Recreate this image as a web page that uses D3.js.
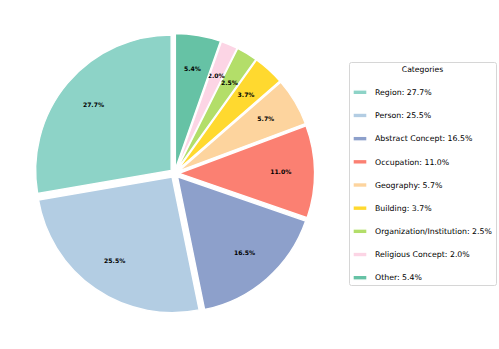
<!DOCTYPE html>
<html>
<head>
<meta charset="utf-8">
<script src="https://d3js.org/d3.v7.min.js"></script>
<style>
  body { margin: 0; background: #fff; }
  svg text { font-family: "DejaVu Sans", sans-serif; }
</style>
</head>
<body>
<svg id="chart" width="499" height="349"></svg>
<script>
const categories = ['Region', 'Person', 'Abstract Concept', 'Occupation', 'Geography',
  'Building', 'Organization/Institution', 'Religious Concept', 'Other'];
const shares = [27.7, 25.5, 16.5, 11.0, 5.7, 3.7, 2.5, 2.0, 5.4];
const colors = ['#8dd3c7', '#b3cde3', '#8da0cb', '#fb8072', '#fdd49e',
  '#ffd92f', '#b3de69', '#fcd5e5', '#66c2a5'];

const data = categories.map((c, i) => ({ name: c, value: shares[i], color: colors[i] }));

const svg = d3.select('#chart');

const cx = 174.6, cy = 173.4;
const radius = 135.5;
const explode = 4.5;

// counter-clockwise from 12 o'clock, like matplotlib startangle=90
const pie = d3.pie()
  .value(d => d.value)
  .sort(null)
  .startAngle(0)
  .endAngle(-2 * Math.PI);

const arc = d3.arc().innerRadius(0).outerRadius(radius);
const labelArc = d3.arc().innerRadius(radius * 0.75).outerRadius(radius * 0.75);

const arcs = pie(data);

const offset = a => {
  const mid = (a.startAngle + a.endAngle) / 2;
  return [Math.sin(mid) * explode, -Math.cos(mid) * explode];
};

const slices = svg.append('g')
  .attr('transform', `translate(${cx},${cy})`)
  .selectAll('g')
  .data(arcs)
  .enter()
  .append('g')
  .attr('transform', a => `translate(${offset(a)})`);

slices.append('path')
  .attr('d', arc)
  .attr('fill', a => a.data.color)
  .attr('stroke', '#fff')
  .attr('stroke-width', 1.4)
  .attr('stroke-linejoin', 'miter');

slices.append('text')
  .attr('transform', a => `translate(${labelArc.centroid(a)})`)
  .attr('text-anchor', 'middle')
  .attr('dy', '0.35em')
  .style('font-size', '6.1px')
  .style('font-weight', 'bold')
  .attr('fill', '#000')
  .text(a => `${a.data.value.toFixed(1)}%`);

// legend
const legend = svg.append('g');

legend.append('rect')
  .attr('x', 349.5)
  .attr('y', 62.5)
  .attr('width', 147)
  .attr('height', 223)
  .attr('rx', 2)
  .attr('fill', '#fff')
  .attr('stroke', '#d6d6d6')
  .attr('stroke-width', 1);

legend.append('text')
  .attr('x', 422.5)
  .attr('y', 69.7)
  .attr('dy', '0.35em')
  .attr('text-anchor', 'middle')
  .style('font-size', '7.7px')
  .text('Categories');

const yLegend = d3.scalePoint()
  .domain(categories)
  .range([92.3, 277.7]);

const items = legend.selectAll('g.item')
  .data(data)
  .enter()
  .append('g')
  .attr('class', 'item')
  .attr('transform', d => `translate(0,${yLegend(d.name)})`);

items.append('rect')
  .attr('x', 353)
  .attr('y', -2.4)
  .attr('width', 14)
  .attr('height', 4.8)
  .attr('fill', d => d.color)
  .attr('stroke', '#fff')
  .attr('stroke-width', 1.4);

items.append('text')
  .attr('x', 375)
  .attr('dy', '0.35em')
  .style('font-size', '7.8px')
  .attr('fill', '#000')
  .text(d => `${d.name}: ${d.value.toFixed(1)}%`);
</script>
</body>
</html>
